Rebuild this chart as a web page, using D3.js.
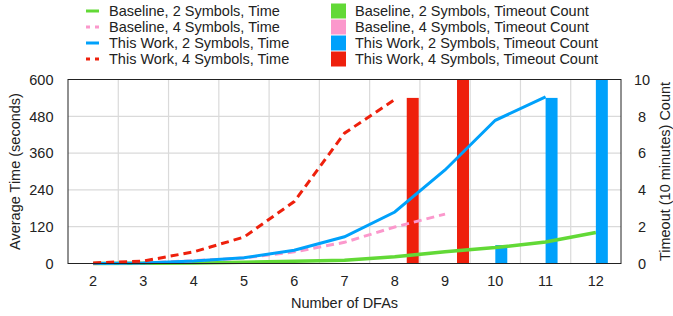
<!DOCTYPE html>
<html>
<head>
<meta charset="utf-8">
<script src="https://cdn.jsdelivr.net/npm/d3@7"></script>
<style>
  body { margin: 0; background: #fff; }
  svg text { font-family: "Liberation Sans", Arial, Helvetica, sans-serif; font-size: 14.5px; fill: #222; }
</style>
</head>
<body>
<div id="chart"></div>
<script>
// number of DFAs on the x axis
var dfas = [2, 3, 4, 5, 6, 7, 8, 9, 10, 11, 12];

// average time (seconds), null where the run stopped
var baseline2Time = [0, 1, 2, 4, 7, 11, 22, 38, 52, 70, 101];
var baseline4Time = [0, 2, 9, 18, 38, 69, 119, 161, null, null, null];
var thisWork2Time = [0, 2, 8, 19, 43, 87, 168, 305, 467, 543, null];
var thisWork4Time = [2, 8, 38, 86, 202, 425, 535, null, null, null, null];

// timeout (10 minutes) count
var baseline2Timeout = [0, 0, 0, 0, 0, 0, 0, 0, 0, 0, 0];
var baseline4Timeout = [0, 0, 0, 0, 0, 0, 0, 0, 0, 0, 0];
var thisWork2Timeout = [0, 0, 0, 0, 0, 0, 0, 0, 1, 9, 10];
var thisWork4Timeout = [0, 0, 0, 0, 0, 0, 9, 10, 0, 0, 0];

var timeTicks = [0, 120, 240, 360, 480, 600];
var countTicks = [0, 2, 4, 6, 8, 10];

var seriesNames = ["Baseline, 2 Symbols", "Baseline, 4 Symbols", "This Work, 2 Symbols", "This Work, 4 Symbols"];
var colors = ["#62d936", "#fb98cc", "#00a1fb", "#ee200c"];
var dashed = [false, true, false, true];

var times = [baseline2Time, baseline4Time, thisWork2Time, thisWork4Time];
var timeouts = [baseline2Timeout, baseline4Timeout, thisWork2Timeout, thisWork4Timeout];

var width = 673, height = 316;
var margin = { top: 79.5, right: 52, bottom: 52.5, left: 68 };
var plotW = width - margin.left - margin.right,
    plotH = height - margin.top - margin.bottom;

var svg = d3.select("#chart").append("svg")
  .attr("width", width)
  .attr("height", height);

var g = svg.append("g")
  .attr("transform", "translate(" + margin.left + "," + margin.top + ")");

var x0 = d3.scaleBand().domain(dfas).range([0, plotW]).padding(0);
var x1 = d3.scaleBand().domain(d3.range(4)).range([0, x0.bandwidth()])
  .paddingInner(0).paddingOuter(0.1);
var yTime = d3.scaleLinear().domain([0, 600]).range([plotH, 0]);
var yCount = d3.scaleLinear().domain([0, 10]).range([plotH, 0]);

// grid
g.append("g").selectAll("line.h")
  .data(timeTicks)
  .enter().append("line")
  .attr("x1", 0).attr("x2", plotW)
  .attr("y1", function(d) { return yTime(d); })
  .attr("y2", function(d) { return yTime(d); })
  .attr("stroke", "#dadada").attr("stroke-width", 1.2);

g.append("g").selectAll("line.v")
  .data(dfas.slice(1))
  .enter().append("line")
  .attr("x1", function(d) { return x0(d); })
  .attr("x2", function(d) { return x0(d); })
  .attr("y1", 0).attr("y2", plotH)
  .attr("stroke", "#dadada").attr("stroke-width", 1.2);

// bars
var barRows = [];
dfas.forEach(function(d, i) {
  timeouts.forEach(function(s, k) {
    if (s[i] > 0) barRows.push({ dfa: d, k: k, v: s[i] });
  });
});

g.append("g").selectAll("rect")
  .data(barRows)
  .enter().append("rect")
  .attr("x", function(d) { return x0(d.dfa) + x1(d.k); })
  .attr("y", function(d) { return yCount(d.v); })
  .attr("width", x1.bandwidth())
  .attr("height", function(d) { return plotH - yCount(d.v); })
  .attr("fill", function(d) { return colors[d.k]; });

// lines
var line = d3.line()
  .defined(function(d) { return d != null; })
  .x(function(d, i) { return x0(dfas[i]) + x0.bandwidth() / 2; })
  .y(function(d) { return yTime(d); });

times.forEach(function(s, k) {
  g.append("path")
    .attr("d", line(s))
    .attr("fill", "none")
    .attr("stroke", colors[k])
    .attr("stroke-width", k == 0 ? 3.5 : 3)
    .attr("stroke-dasharray", dashed[k] ? "8,5" : null);
});

// frame
g.append("rect")
  .attr("width", plotW).attr("height", plotH)
  .attr("fill", "none").attr("stroke", "#222").attr("stroke-width", 1);

// left axis labels
g.append("g").selectAll("text")
  .data(timeTicks)
  .enter().append("text")
  .attr("x", -14.5)
  .attr("y", function(d) { return yTime(d); })
  .attr("dy", "0.36em")
  .attr("text-anchor", "end")
  .text(function(d) { return d; });

// right axis labels
g.append("g").selectAll("text")
  .data(countTicks)
  .enter().append("text")
  .attr("x", plotW + 21)
  .attr("y", function(d) { return yCount(d); })
  .attr("dy", "0.36em")
  .attr("text-anchor", "middle")
  .text(function(d) { return d; });

// x labels
g.append("g").selectAll("text")
  .data(dfas)
  .enter().append("text")
  .attr("x", function(d) { return x0(d) + x0.bandwidth() / 2; })
  .attr("y", plotH + 17)
  .attr("dy", "0.36em")
  .attr("text-anchor", "middle")
  .text(function(d) { return d; });

// axis titles
g.append("text")
  .attr("x", plotW / 2)
  .attr("y", plotH + 39)
  .attr("dy", "0.36em")
  .attr("text-anchor", "middle")
  .text("Number of DFAs");

svg.append("text")
  .attr("transform", "translate(15," + (margin.top + plotH / 2) + ") rotate(-90)")
  .attr("dy", "0.36em")
  .attr("text-anchor", "middle")
  .text("Average Time (seconds)");

svg.append("text")
  .attr("transform", "translate(665," + (margin.top + plotH / 2) + ") rotate(-90)")
  .attr("dy", "0.36em")
  .attr("text-anchor", "middle")
  .text("Timeout (10 minutes) Count");

// legend
var legend = svg.append("g");
seriesNames.forEach(function(name, k) {
  var cy = 11 + k * 16;
  legend.append("line")
    .attr("x1", 86).attr("x2", 99)
    .attr("y1", cy).attr("y2", cy)
    .attr("stroke", colors[k]).attr("stroke-width", 3)
    .attr("stroke-dasharray", dashed[k] ? "4,5" : null);
  legend.append("text")
    .attr("x", 109).attr("y", cy).attr("dy", "0.36em")
    .text(name + ", Time");
  legend.append("rect")
    .attr("x", 331).attr("y", cy - 7.5)
    .attr("width", 15).attr("height", 15)
    .attr("fill", colors[k]);
  legend.append("text")
    .attr("x", 355).attr("y", cy).attr("dy", "0.36em")
    .text(name + ", Timeout Count");
});
</script>
</body>
</html>
